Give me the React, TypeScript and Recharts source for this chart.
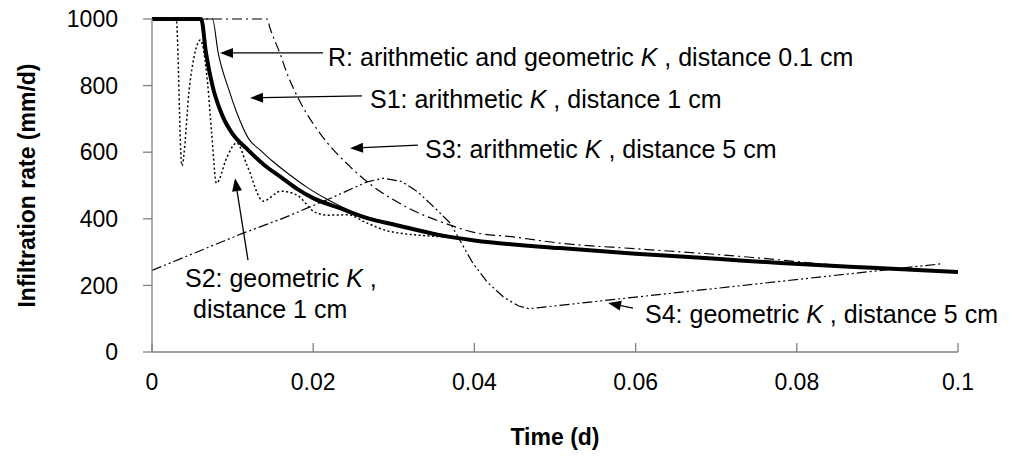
import { Label, Line, LineChart, ReferenceLine, XAxis, YAxis } from "recharts";

const FONT = "'Liberation Sans', Arial, sans-serif";
const AXIS_GREY = "#808080";

const xTicks = [0, 0.02, 0.04, 0.06, 0.08, 0.1];
const yTicks = [0, 200, 400, 600, 800, 1000];

// R: arithmetic and geometric K, distance 0.1 cm
const rTime = [0, 0.0061, 0.0067, 0.0075, 0.0088, 0.01, 0.0119, 0.014, 0.016, 0.018, 0.02, 0.0233, 0.027, 0.03, 0.0357, 0.04, 0.0506, 0.06, 0.07, 0.078, 0.09, 0.1];
const rRate = [1000, 1000, 898, 800, 706, 655, 607, 560, 525, 490, 462, 432, 400, 383, 351, 335, 312, 295, 280, 267, 252, 240];

// S1: arithmetic K, distance 1 cm
const s1Time = [0, 0.0075, 0.0082, 0.0095, 0.0105, 0.012, 0.0135, 0.015, 0.0172, 0.0192, 0.022, 0.025, 0.03, 0.04, 0.06, 0.08, 0.1];
const s1Rate = [1000, 1000, 900, 790, 720, 640, 605, 572, 530, 495, 455, 420, 385, 336, 296, 264, 241];

// S2: geometric K, distance 1 cm
const s2Time = [0, 0.003, 0.0037, 0.0047, 0.0057, 0.006, 0.0069, 0.0074, 0.008, 0.0093, 0.0105, 0.0118, 0.0138, 0.016, 0.018, 0.0202, 0.0218, 0.0243, 0.0267, 0.0295, 0.0378, 0.045, 0.06, 0.08, 0.1];
const s2Rate = [1000, 1000, 560, 807, 928, 937, 807, 657, 507, 585, 628, 560, 453, 483, 471, 420, 411, 412, 387, 362, 342, 322, 295, 263, 241];

// S3: arithmetic K, distance 5 cm
const s3Time = [0, 0.0143, 0.0146, 0.0159, 0.0167, 0.0184, 0.0208, 0.0246, 0.0267, 0.0316, 0.037, 0.0398, 0.045, 0.0506, 0.06, 0.07, 0.0754, 0.0878, 0.1];
const s3Rate = [1000, 1000, 976, 895, 840, 750, 658, 556, 511, 435, 381, 360, 345, 327, 310, 293, 282, 255, 242];

// S4: geometric K, distance 5 cm
const s4Time = [0, 0.0113, 0.0163, 0.022, 0.0267, 0.0287, 0.031, 0.033, 0.035, 0.037, 0.0398, 0.0416, 0.0436, 0.0455, 0.0468, 0.098];
const s4Rate = [245, 357, 402, 460, 511, 522, 512, 480, 435, 387, 267, 210, 165, 138, 130, 265];

const zip = (t: number[], v: number[]) => t.map((x, i) => ({ t: x, v: v[i] }));

const rData = zip(rTime, rRate);
const s1Data = zip(s1Time, s1Rate);
const s2Data = zip(s2Time, s2Rate);
const s3Data = zip(s3Time, s3Rate);
const s4Data = zip(s4Time, s4Rate);

type Note = {
  tip: [number, number];
  tail: [number, number];
  lines: { dx: number; dy: number; parts: string[] }[];
};

const notes: Note[] = [
  { tip: [0.00844, 898], tail: [0.02122, 898], lines: [{ dx: 5, dy: 13, parts: ["R: arithmetic and geometric ", "K", " , distance 0.1 cm"] }] },
  { tip: [0.01216, 763], tail: [0.02605, 769], lines: [{ dx: 8, dy: 12, parts: ["S1: arithmetic ", "K", " , distance 1 cm"] }] },
  { tip: [0.02457, 612], tail: [0.033, 621], lines: [{ dx: 7, dy: 13, parts: ["S3: arithmetic ", "K", " , distance 5 cm"] }] },
  {
    tip: [0.0103, 522],
    tail: [0.01191, 276],
    lines: [
      { dx: -63, dy: 27, parts: ["S2: geometric ", "K", " ,"] },
      { dx: -55, dy: 58, parts: ["distance 1 cm"] },
    ],
  },
  { tip: [0.05658, 147], tail: [0.05968, 132], lines: [{ dx: 12, dy: 15, parts: ["S4: geometric ", "K", " , distance 5 cm"] }] },
];

function arrowShape(note: Note) {
  return (props: any) => {
    const { x1, y1, x2, y2 } = props;
    const ang = Math.atan2(y1 - y2, x1 - x2);
    const len = 13;
    const half = 5;
    const bx = x1 - len * Math.cos(ang);
    const by = y1 - len * Math.sin(ang);
    const px = -Math.sin(ang) * half;
    const py = Math.cos(ang) * half;
    return (
      <g>
        <line x1={x2} y1={y2} x2={bx} y2={by} stroke="#000" strokeWidth={1.3} />
        <polygon points={`${x1},${y1} ${bx + px},${by + py} ${bx - px},${by - py}`} fill="#000" />
        {note.lines.map((ln, i) => (
          <text key={i} x={x2 + ln.dx} y={y2 + ln.dy} fontFamily={FONT} fontSize={25} fill="#000">
            {ln.parts.map((p, j) => (
              <tspan key={j} fontStyle={p === "K" ? "italic" : "normal"}>
                {p}
              </tspan>
            ))}
          </text>
        ))}
      </g>
    );
  };
}

const XTick = (props: any) => {
  const { x, y, payload } = props;
  return (
    <g>
      <line x1={x} y1={y} x2={x} y2={y - 9} stroke={AXIS_GREY} strokeWidth={1.3} />
      <text x={x} y={y + 38} textAnchor="middle" fontFamily={FONT} fontSize={23} fill="#000">
        {String(payload.value)}
      </text>
    </g>
  );
};

const YTitle = (props: any) => {
  const vb = props.viewBox;
  const cx = vb.x + 27;
  const cy = vb.y + vb.height / 2;
  return (
    <text
      x={cx}
      y={cy}
      transform={`rotate(-90, ${cx}, ${cy})`}
      textAnchor="middle"
      dominantBaseline="central"
      fontFamily={FONT}
      fontSize={23}
      fontWeight="bold"
      fill="#000"
    >
      Infiltration rate (mm/d)
    </text>
  );
};

export default function App() {
  return (
    <div style={{ position: "absolute", left: 0, top: 0, width: 1014, height: 459, background: "#fff" }}>
      <LineChart width={1014} height={459} margin={{ top: 19, right: 56, left: 0, bottom: 0 }}>
        <XAxis
          type="number"
          dataKey="t"
          domain={[0, 0.1]}
          ticks={xTicks}
          allowDataOverflow
          height={107}
          tickSize={0}
          tickMargin={0}
          tick={<XTick />}
          stroke={AXIS_GREY}
          strokeWidth={1.3}
        >
          <Label value="Time (d)" position="center" dy={31} fontFamily={FONT} fontSize={23} fontWeight="bold" fill="#000" />
        </XAxis>
        <YAxis
          type="number"
          domain={[0, 1000]}
          ticks={yTicks}
          width={152}
          tickSize={9}
          tickMargin={25}
          tick={{ fontFamily: FONT, fontSize: 23, fill: "#000" }}
          stroke={AXIS_GREY}
          strokeWidth={1.3}
        >
          <Label content={<YTitle />} />
        </YAxis>
        <Line data={s4Data} dataKey="v" type="linear" stroke="#000" strokeWidth={1.2} strokeDasharray="10 3 2 3 2 3" dot={false} isAnimationActive={false} />
        <Line data={s3Data} dataKey="v" type="monotone" stroke="#000" strokeWidth={1.2} strokeDasharray="10 4 2 4" dot={false} isAnimationActive={false} />
        <Line data={s2Data} dataKey="v" type="monotone" stroke="#000" strokeWidth={1.5} strokeDasharray="2 2.5" dot={false} isAnimationActive={false} />
        <Line data={s1Data} dataKey="v" type="monotone" stroke="#000" strokeWidth={1.1} dot={false} isAnimationActive={false} />
        <Line data={rData} dataKey="v" type="monotone" stroke="#000" strokeWidth={4} dot={false} isAnimationActive={false} />
        {notes.map((n, i) => (
          <ReferenceLine
            key={i}
            segment={[
              { x: n.tip[0], y: n.tip[1] },
              { x: n.tail[0], y: n.tail[1] },
            ]}
            shape={arrowShape(n)}
          />
        ))}
      </LineChart>
    </div>
  );
}
